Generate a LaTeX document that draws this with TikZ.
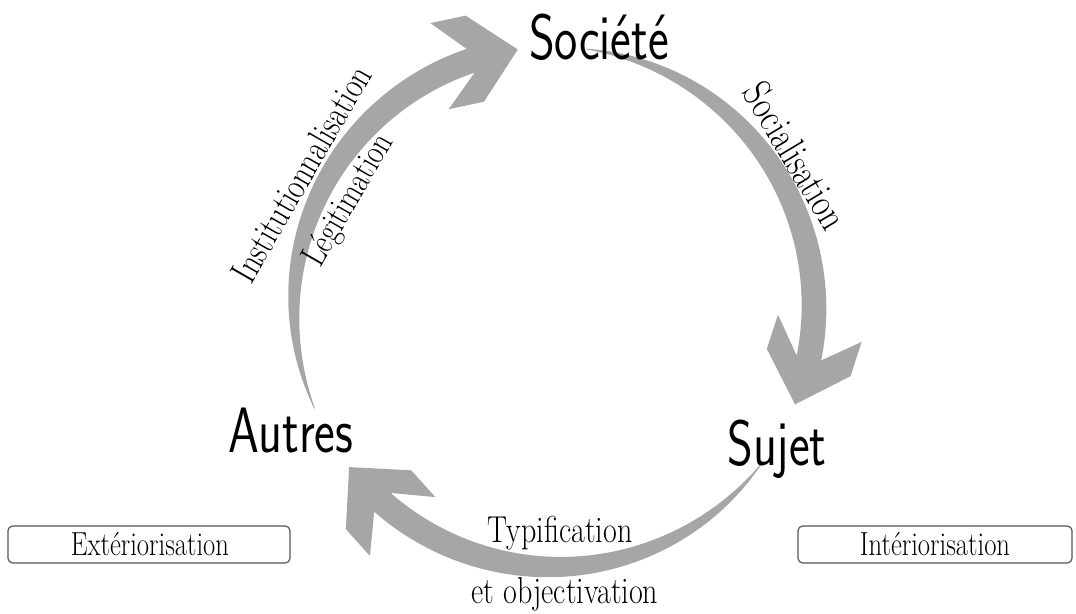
\documentclass[tikz,border=0pt]{standalone}
\usepackage{fontspec}
\usepackage{graphicx}
\definecolor{arrowgray}{RGB}{166,166,166}
\definecolor{boxgray}{RGB}{85,85,85}
\def\arrCX{554}\def\arrCY{307}\def\arrR{260}
\newcommand\tallserif[1]{\scalebox{1}[1.25]{#1}}
\newcommand\tallhand[1]{\scalebox{1}[1.3]{#1}}
\newcommand\drawcurvedarrow[2]{%
 \pgfmathsetmacro\arrA{#1}%
 \pgfmathsetmacro\arrN{#2-10.7}%
 \pgfmathsetmacro\arrH{#2-4}%
 \pgfmathsetmacro\arrT{#2}%
 \fill[arrowgray]
 plot[domain=\arrA:\arrN,samples=90,variable=\t]
 ({\arrCX+(\arrR+0.3+12.2*(1-(1-(\t-\arrA)/(\arrN-\arrA))^2))*cos(\t)},{\arrCY+(\arrR+0.3+12.2*(1-(1-(\t-\arrA)/(\arrN-\arrA))^2))*sin(\t)})
 -- ({\arrCX+\arrR*cos(\arrT)+80*sin(\arrH)+44*cos(\arrH)},{\arrCY+\arrR*sin(\arrT)-80*cos(\arrH)+44*sin(\arrH)})
 -- ({\arrCX+\arrR*cos(\arrT)+44*sin(\arrH)+44*cos(\arrH)},{\arrCY+\arrR*sin(\arrT)-44*cos(\arrH)+44*sin(\arrH)})
 -- ({\arrCX+\arrR*cos(\arrT)},{\arrCY+\arrR*sin(\arrT)})
 -- ({\arrCX+\arrR*cos(\arrT)+44*sin(\arrH)-44*cos(\arrH)},{\arrCY+\arrR*sin(\arrT)-44*cos(\arrH)-44*sin(\arrH)})
 -- ({\arrCX+\arrR*cos(\arrT)+80*sin(\arrH)-44*cos(\arrH)},{\arrCY+\arrR*sin(\arrT)-80*cos(\arrH)-44*sin(\arrH)})
 -- plot[domain=\arrN:\arrA,samples=90,variable=\t]
 ({\arrCX+(\arrR-0.3-12.2*(1-(1-(\t-\arrA)/(\arrN-\arrA))^2))*cos(\t)},{\arrCY+(\arrR-0.3-12.2*(1-(1-(\t-\arrA)/(\arrN-\arrA))^2))*sin(\t)})
 -- cycle;}
\tikzset{
 hand/.style={font=\sffamily\fontsize{37}{40}\selectfont, anchor=base, inner sep=0pt},
 lab/.style={font=\fontsize{22.5}{27}\selectfont, anchor=base, inner sep=0pt},
 phasebox/.style={draw=boxgray, line width=0.9pt, rounded corners=3.5pt, inner sep=0pt, minimum height=27.75pt},
 phaselab/.style={font=\fontsize{20}{24}\selectfont, anchor=base, inner sep=0pt}
}
\begin{document}
\begin{tikzpicture}[x=0.75pt,y=-0.75pt]
\useasboundingbox (0,0) rectangle (1076,614);
% tapered arrows
\drawcurvedarrow{157}{262}
\drawcurvedarrow{277}{382}
\drawcurvedarrow{37}{142}
% main nodes
\node[hand] (societe) at (599,60) {\tallhand{Société}};
\node[hand] (sujet) at (777,465) {\tallhand{Sujet}};
\node[hand] (autres) at (291,452) {\tallhand{Autres}};
% arrow labels
\node[lab, rotate=60] (inst) at (312,180) {\tallserif{Institutionnalisation}};
\node[lab, rotate=60, font=\fontsize{21.5}{26}\selectfont] (legit) at (357,205) {\tallserif{Légitimation}};
\node[lab, rotate=-59, font=\fontsize{24.5}{29}\selectfont] (social) at (784,163) {\tallserif{Socialisation}};
\node[lab] (typif) at (560,542) {\tallserif{Typification}};
\node[lab] (objec) at (565,603) {\tallserif{et objectivation}};
% phase boxes
\node[phasebox, minimum width=211.5pt] (extbox) at (149,544.5) {};
\node[phaselab] (extlab) at (150,555) {\tallserif{Extériorisation}};
\node[phasebox, minimum width=205.5pt] (intbox) at (935,544.5) {};
\node[phaselab] (intlab) at (935,555) {\tallserif{Intériorisation}};
\end{tikzpicture}
\end{document}
